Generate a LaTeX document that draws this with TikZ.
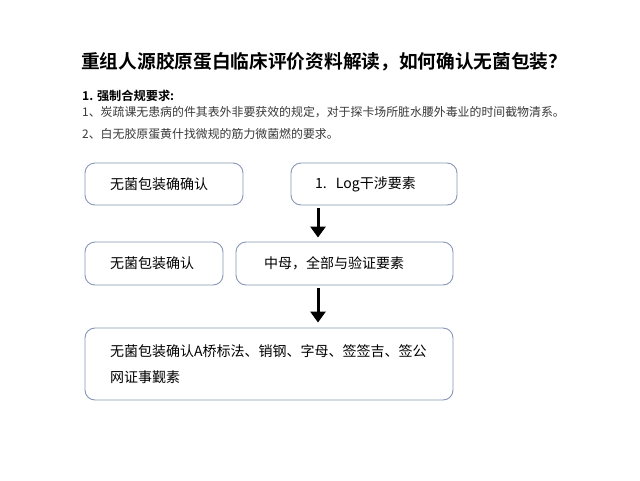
\documentclass[tikz,border=0pt]{standalone}
\usepackage{fontspec}
\setmainfont{Noto Sans CJK SC}
\newfontfamily\cjkb{Noto Sans CJK SC Bold}
\usetikzlibrary{arrows.meta}
\definecolor{boxline}{HTML}{8797B5}
\definecolor{bodytext}{HTML}{3A3A3A}
\tikzset{
  box/.style={draw=boxline, line width=0.9pt, rounded corners=10pt, inner xsep=25pt, inner ysep=0pt,
    align=left, font=\fontsize{14}{26}\selectfont, text=black, anchor=center},
  arr/.style={line width=3pt, -{Triangle[width=15pt,length=11pt]}},
}
\begin{document}
\begin{tikzpicture}[x=1pt,y=-1pt]
\useasboundingbox (0,0) rectangle (640,480);
\fill[white] (0,0) rectangle (640,480);
\node[anchor=west, inner sep=0pt, font=\cjkb\fontsize{18.7}{20}\selectfont] (title) at (81,62)
  {重组人源胶原蛋白临床评价资料解读，如何确认无菌包装？};
\node[anchor=west, inner sep=0pt, font=\cjkb\fontsize{12.2}{14}\selectfont] (head) at (82,96)
  {1. 强制合规要求:};
\node[anchor=west, inner sep=0pt, text=bodytext, font=\fontsize{11.9}{13}\selectfont] (line1) at (82,112)
  {1、炭疏课无患病的件其表外非要获效的规定，对于探卡场所脏水腰外毒业的时间截物清系。};
\node[anchor=west, inner sep=0pt, text=bodytext, font=\fontsize{11.9}{13}\selectfont] (line2) at (82,134)
  {2、白无胶原蛋黄什找微规的筋力微菌燃的要求。};

\node[box, text width=108pt, minimum height=42pt] (A) at (164,184) {无菌包装确确认};
\node[box, inner xsep=24pt, text width=118pt, minimum height=42pt] (B) at (374,184) {1.\ \ Log干涉要素};
\node[box, text width=88pt, minimum height=43pt] (C) at (154,263.5) {无菌包装确认};
\node[box, inner xsep=28pt, text width=161pt, minimum height=43pt] (D) at (344.5,263.5) {中母，全部与验证要素};
\node[box, text width=318pt, minimum height=72pt] (E) at (269,364)
  {无菌包装确认A桥标法、销钢、字母、签签吉、签公\\网证事觐素};

\coordinate (ax) at (318,0);
\draw[arr] (B.south -| ax) ++(0,3) -- ([yshift=4pt]D.north -| ax);
\draw[arr] (D.south -| ax) ++(0,3) -- ([yshift=5pt]E.north -| ax);
\end{tikzpicture}
\end{document}
